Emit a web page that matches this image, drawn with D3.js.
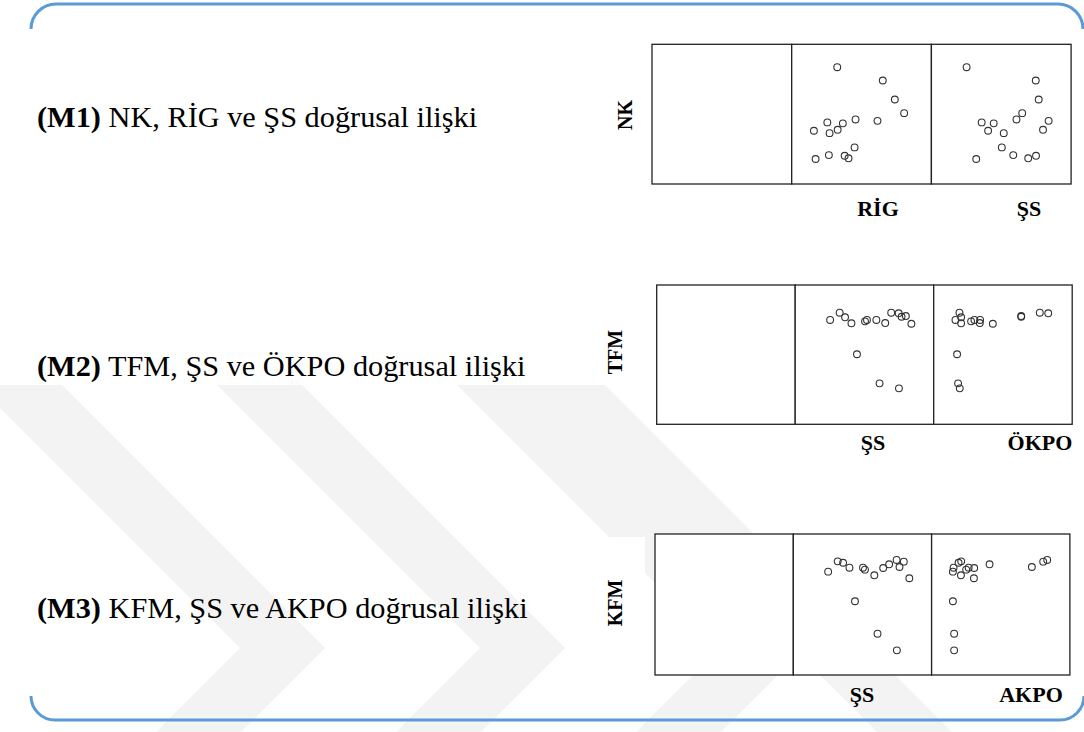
<!DOCTYPE html>
<html>
<head>
<meta charset="utf-8">
<script src="https://cdn.jsdelivr.net/npm/d3@7"></script>
<style>
  html, body { margin: 0; padding: 0; background: #ffffff; }
  svg { display: block; }
</style>
</head>
<body>
<svg id="chart" width="1084" height="732"></svg>
<script>
// Sixteen observations, each variable read on a 0–100 scale of its own range.
const SS   = [25.2, 32.1, 36.0, 40.6, 44.6, 50.4, 51.8, 58.6, 60.9, 65.0, 69.3, 74.7, 74.9, 76.8, 79.9, 83.9];
const NK   = [83.6, 17.9, 44.1, 38.1, 43.4, 26.2, 36.4, 20.7, 46.2, 50.7, 18.4, 74.1, 20.2, 60.5, 38.8, 45.2];
const RIG  = [32.6, 17.1, 25.5, 15.9, 36.6, 45.0, 27.1, 26.6, 45.7, 80.5, 40.7, 65.2, 37.9, 73.8, 32.9, 61.4];
const TFM  = [74.9, 80.1, 76.8, 72.5, 50.3, 73.9, 74.9, 74.9, 29.4, 72.7, 80.1, 79.7, 25.8, 77.2, 77.7, 72.2];
const OKPO = [15.7, 18.6, 19.8, 19.8, 16.9, 27.0, 29.4, 33.5, 17.6, 33.3, 76.6, 82.7, 18.8, 63.2, 63.2, 42.7];
const KFM  = [73.3, 80.6, 79.6, 76.1, 52.3, 76.1, 74.7, 70.7, 29.3, 75.9, 78.5, 81.6, 17.5, 76.6, 80.4, 68.6];
const AKPO = [15.4, 21.4, 19.5, 15.9, 15.4, 26.8, 25.0, 21.2, 16.3, 30.8, 41.9, 83.6, 16.3, 72.5, 80.7, 30.6];

// Model captions and variable names
const modelCodes = ["(M1)", "(M2)", "(M3)"];
const modelTexts = [" NK, RİG ve ŞS doğrusal ilişki",
                    " TFM, ŞS ve ÖKPO doğrusal ilişki",
                    " KFM, ŞS ve AKPO doğrusal ilişki"];
const yNames  = ["NK", "TFM", "KFM"];
const xNames  = [["RİG", "ŞS"], ["ŞS", "ÖKPO"], ["ŞS", "AKPO"]];
const yValues = [NK, TFM, KFM];
const xValues = [[RIG, SS], [SS, OKPO], [SS, AKPO]];

// Panel geometry (scatter-matrix row: empty cell + two scatter cells)
const panels = [
  { left: 652.0, top: 44.3,  cw: 139.7, h: 139.7, captionY: 127, colLabelX: [878, 1029], colLabelY: 216, rowLabel: [632, 115] },
  { left: 656.7, top: 285.0, cw: 138.5, h: 139.3, captionY: 376, colLabelX: [873, 1040], colLabelY: 450, rowLabel: [622, 352] },
  { left: 655.0, top: 534.0, cw: 138.3, h: 141.0, captionY: 618, colLabelX: [862, 1031], colLabelY: 702, rowLabel: [622, 603] }
];

const svg = d3.select("#chart");
const serif = "'Liberation Serif', 'Times New Roman', 'DejaVu Serif', serif";

// Faint background watermark: light chevron bands
const wm = svg.append("g").attr("fill", "#f3f3f3");
const chevrons = [
  { ax: 240, ay: 648, w: 85 },
  { ax: 480, ay: 648, w: 85 },
  { ax: 720, ay: 648, w: 85 },
  { ax: 945, ay: 800, w: 75 }
];
const armLen = 420;
chevrons.forEach(c => {
  const pts = [
    [c.ax - armLen, c.ay - armLen], [c.ax - armLen + c.w, c.ay - armLen],
    [c.ax + c.w, c.ay], [c.ax - armLen + c.w, c.ay + armLen],
    [c.ax - armLen, c.ay + armLen], [c.ax, c.ay]
  ];
  wm.append("polygon").attr("points", pts.map(p => p.join(",")).join(" "));
});
// keep the watermark inside the lower part of the frame
wm.append("rect").attr("x", 0).attr("y", 0).attr("width", 1084).attr("height", 385).attr("fill", "#ffffff");

// Rounded blue frame (top and bottom brackets)
const frame = svg.append("g").attr("fill", "none").attr("stroke", "#5b9bd5").attr("stroke-width", 3);
frame.append("path").attr("d", "M31,29 A25,25 0 0 1 56,4 L1058,4 A25,25 0 0 1 1083,29");
frame.append("path").attr("d", "M31,696 A24,24 0 0 0 55,720 L1060,720 A24,24 0 0 0 1084,696");

panels.forEach((p, i) => {
  const g = svg.append("g");

  // caption on the left
  const cap = g.append("text")
    .attr("x", 37).attr("y", p.captionY)
    .attr("font-family", serif).attr("font-size", 30.3).attr("fill", "#000");
  cap.append("tspan").attr("font-weight", "bold").text(modelCodes[i]);
  cap.append("tspan").text(modelTexts[i]);

  // row label (y variable), rotated
  if (i === 2) {
    g.append("rect").attr("x", 610).attr("y", 537).attr("width", 35).attr("height", 132).attr("fill", "#ffffff");
  }
  g.append("text")
    .attr("transform", `translate(${p.rowLabel[0]},${p.rowLabel[1]}) rotate(-90)`)
    .attr("text-anchor", "middle")
    .attr("font-family", serif).attr("font-size", 20).attr("font-weight", "bold")
    .text(yNames[i]);

  // three cells
  for (let c = 0; c < 3; c++) {
    g.append("rect")
      .attr("x", p.left + c * p.cw).attr("y", p.top)
      .attr("width", p.cw).attr("height", p.h)
      .attr("fill", "#ffffff").attr("stroke", "#222").attr("stroke-width", 1.3);
  }

  const y = d3.scaleLinear().domain([0, 100]).range([p.top + p.h, p.top]);
  for (let k = 0; k < 2; k++) {
    const x0 = p.left + (k + 1) * p.cw;
    const x = d3.scaleLinear().domain([0, 100]).range([x0, x0 + p.cw]);
    const xs = xValues[i][k], ys = yValues[i];
    g.append("g").selectAll("circle")
      .data(d3.range(xs.length))
      .join("circle")
      .attr("cx", j => x(xs[j]))
      .attr("cy", j => y(ys[j]))
      .attr("r", 3.4)
      .attr("fill", "none").attr("stroke", "#333").attr("stroke-width", 1.1);

    g.append("text")
      .attr("x", p.colLabelX[k]).attr("y", p.colLabelY)
      .attr("text-anchor", "middle")
      .attr("font-family", serif).attr("font-size", 22).attr("font-weight", "bold")
      .text(xNames[i][k]);
  }
});
</script>
</body>
</html>
